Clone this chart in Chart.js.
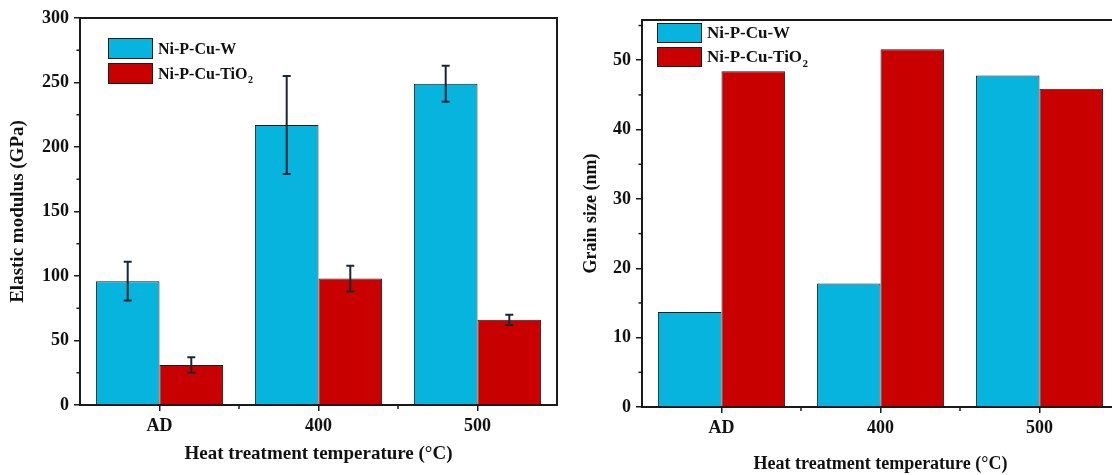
<!DOCTYPE html>
<html><head><meta charset="utf-8">
<script src="https://cdn.jsdelivr.net/npm/chart.js@4/dist/chart.umd.min.js"></script>
<style>
html,body{margin:0;padding:0;background:#fff;overflow:hidden;width:1112px;height:475px}
#w1{position:absolute;left:0;top:0;width:560px;height:475px}
#w2{position:absolute;left:560px;top:0;width:552px;height:475px;overflow:hidden}
canvas{display:block}
</style></head><body>
<div id="w1"><canvas id="c1" width="560" height="475"></canvas></div>
<div id="w2"><canvas id="c2" width="566" height="475"></canvas></div>
<script>
// ---- data ----
const categories = ['AD', '400', '500'];
const seriesNames = ['Ni-P-Cu-W', 'Ni-P-Cu-TiO₂'];
const modulusW = [96, 217, 249];
const modulusWErr = [15, 38, 14];
const modulusTiO2 = [31, 98, 66];
const modulusTiO2Err = [6, 10, 4];
const grainW = [13.7, 17.8, 47.8];
const grainTiO2 = [48.4, 51.6, 45.9];
const modulusTicks = [0, 50, 100, 150, 200, 250, 300];
const modulusMinorTicks = [25, 75, 125, 175, 225, 275];
const grainTicks = [0, 10, 20, 30, 40, 50];
const grainMinorTicks = [5, 15, 25, 35, 45, 55];
const xTitle = 'Heat treatment temperature (°C)';
const yTitleLeft = 'Elastic modulus (GPa)';
const yTitleRight = 'Grain size (nm)';

const BLUE = '#07b4de';
const RED = '#c90000';
const EDGE = '#1c1c1c';
const FONT = '"Liberation Serif", "Times New Roman", serif';
const INK = '#111';

// frame + minor ticks
const framePlugin = {
  id: 'frame',
  afterDraw(chart, args, opts) {
    const {ctx, chartArea: a, scales} = chart;
    ctx.save();
    ctx.strokeStyle = '#1a1a1a';
    ctx.lineWidth = 1.5;
    // minor y ticks
    (opts.minorY || []).forEach(v => {
      const y = scales.y.getPixelForValue(v);
      if (y < a.top - 0.5) return;
      ctx.beginPath(); ctx.moveTo(a.left - 3.5, y); ctx.lineTo(a.left, y); ctx.stroke();
    });
    // minor x ticks between categories
    const n = chart.data.labels.length;
    for (let i = 0; i < n - 1; i++) {
      const x = (scales.x.getPixelForValue(i) + scales.x.getPixelForValue(i + 1)) / 2;
      ctx.beginPath(); ctx.moveTo(x, a.bottom); ctx.lineTo(x, a.bottom + 4); ctx.stroke();
    }
    ctx.lineWidth = 2;
    ctx.strokeRect(a.left, a.top, a.right - a.left, a.bottom - a.top);
    ctx.restore();
  }
};

// error bars
const errorPlugin = {
  id: 'errbars',
  afterDatasetsDraw(chart) {
    const {ctx, scales} = chart;
    chart.data.datasets.forEach((ds, di) => {
      if (!ds.errors) return;
      const meta = chart.getDatasetMeta(di);
      meta.data.forEach((bar, i) => {
        const v = ds.data[i], e = ds.errors[i];
        const yTop = scales.y.getPixelForValue(v + e);
        const yBot = scales.y.getPixelForValue(v - e);
        ctx.save();
        ctx.strokeStyle = '#1b2633';
        ctx.lineWidth = 2;
        ctx.beginPath();
        ctx.moveTo(bar.x, yTop); ctx.lineTo(bar.x, yBot);
        ctx.moveTo(bar.x - 4, yTop); ctx.lineTo(bar.x + 4, yTop);
        ctx.moveTo(bar.x - 4, yBot); ctx.lineTo(bar.x + 4, yBot);
        ctx.stroke();
        ctx.restore();
      });
    });
  }
};

// legend inside the plot
const boxLegendPlugin = {
  id: 'boxLegend',
  afterDraw(chart, args, o) {
    const {ctx, chartArea: a} = chart;
    ctx.save();
    chart.data.datasets.forEach((ds, i) => {
      const bx = a.left + o.left, by = a.top + o.top + i * o.rowH;
      ctx.fillStyle = ds.backgroundColor;
      ctx.fillRect(bx, by, o.boxW, o.boxH);
      ctx.strokeStyle = EDGE; ctx.lineWidth = 1;
      ctx.strokeRect(bx + 0.5, by + 0.5, o.boxW - 1, o.boxH - 1);
      ctx.fillStyle = INK;
      ctx.textBaseline = 'middle';
      ctx.textAlign = 'left';
      ctx.font = 'bold ' + o.size + 'px ' + FONT;
      let label = ds.label, sub = '';
      if (label.endsWith('₂')) { label = label.slice(0, -1); sub = '2'; }
      const tx = bx + o.boxW + o.gap, ty = by + o.boxH / 2 + 1;
      ctx.fillText(label, tx, ty);
      if (sub) {
        const w = ctx.measureText(label).width;
        ctx.font = 'bold ' + Math.round(o.size * 0.65) + 'px ' + FONT;
        ctx.fillText(sub, tx + w + 0.5, ty + o.size * 0.38);
      }
    });
    ctx.restore();
  }
};

function makeChart(id, cfg) {
  const tickFont = {family: FONT, size: 18, weight: 'bold'};
  return new Chart(document.getElementById(id), {
    type: 'bar',
    data: {
      labels: categories,
      datasets: [
        {label: seriesNames[0], data: cfg.a, errors: cfg.aErr, backgroundColor: BLUE, borderColor: EDGE, borderWidth: 1, categoryPercentage: 0.8, barPercentage: 1.0},
        {label: seriesNames[1], data: cfg.b, errors: cfg.bErr, backgroundColor: RED, borderColor: EDGE, borderWidth: 1, categoryPercentage: 0.8, barPercentage: 1.0}
      ]
    },
    options: {
      responsive: false,
      animation: false,
      devicePixelRatio: 1,
      layout: {padding: cfg.padding},
      plugins: {
        legend: {display: false},
        tooltip: {enabled: false},
        frame: {minorY: cfg.minor},
        boxLegend: cfg.legend
      },
      scales: {
        x: {
          grid: {display: true, drawOnChartArea: false, drawTicks: true, tickLength: 6, color: '#1a1a1a', lineWidth: 1.5, offset: false},
          border: {display: false},
          ticks: {font: tickFont, color: INK, padding: 5},
          title: {display: true, text: xTitle, color: INK, font: {family: FONT, size: cfg.titleSize, weight: 'bold'}, padding: {top: 0, bottom: cfg.xTitlePad}},
          afterFit: s => { s.height = cfg.xH; }
        },
        y: {
          min: 0, max: cfg.max,
          grid: {display: true, drawOnChartArea: false, drawTicks: true, tickLength: 6, color: '#1a1a1a', lineWidth: 1.5},
          border: {display: false},
          ticks: {font: tickFont, color: INK, padding: 5},
          afterBuildTicks: s => { s.ticks = cfg.ticks.map(v => ({value: v})); },
          title: {display: true, text: cfg.yTitle, color: INK, font: {family: FONT, size: cfg.titleSize, weight: 'bold'}, padding: {top: cfg.yTitlePad, bottom: 0}},
          afterFit: s => { s.width = cfg.yW; }
        }
      }
    },
    plugins: [framePlugin, errorPlugin, boxLegendPlugin]
  });
}

makeChart('c1', {
  a: modulusW, aErr: modulusWErr, b: modulusTiO2, bErr: modulusTiO2Err,
  max: 300, ticks: modulusTicks, minor: modulusMinorTicks,
  padding: {top: 18, right: 3, bottom: 0, left: 0},
  xH: 70, yW: 80, titleSize: 19, xTitlePad: 10, yTitlePad: 7, yTitle: yTitleLeft,
  legend: {left: 28, top: 20, boxW: 45, boxH: 21, rowH: 25, gap: 5, size: 16}
});

makeChart('c2', {
  a: grainW, aErr: null, b: grainTiO2, bErr: null,
  max: 55.8, ticks: grainTicks, minor: grainMinorTicks,
  padding: {top: 20, right: 7, bottom: 0, left: 0},
  xH: 68, yW: 82, titleSize: 18, xTitlePad: 0, yTitlePad: 21, yTitle: yTitleRight,
  legend: {left: 15, top: 3, boxW: 45, boxH: 20, rowH: 24, gap: 5, size: 17}
});
</script>
</body></html>
